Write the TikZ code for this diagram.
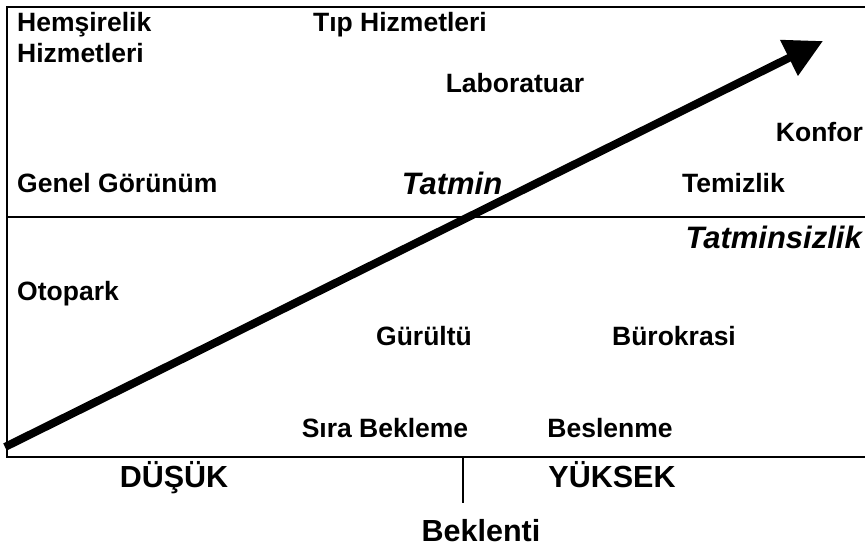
\documentclass[tikz,border=0pt]{standalone}
\usepackage{fontspec}
\setmainfont{Liberation Sans}
\usetikzlibrary{arrows.meta}

\tikzset{
    factor/.style={font=\fontsize{26.5}{30}\selectfont\bfseries,inner sep=0pt,text height=19pt,text depth=0pt},
    zone/.style={font=\fontsize{31}{36}\selectfont\bfseries\itshape,inner sep=0pt,text height=22pt,text depth=0pt},
    axislabel/.style={font=\fontsize{30.5}{36}\selectfont\bfseries,inner sep=0pt,text height=22pt,text depth=0pt},
}

\begin{document}
\begin{tikzpicture}[x=1pt,y=-1pt]
    \useasboundingbox (0,0) rectangle (865,549);
    % frame and the split between the two zones
    \coordinate (tl) at (7,7);
    \coordinate (tr) at (865,7);
    \coordinate (bl) at (7,457);
    \coordinate (br) at (865,457);
    \coordinate (ml) at (7,217);
    \coordinate (mr) at (865,217);
    \draw[line width=1.4pt] (tr) -- (tl) -- (bl) -- (br);
    \draw[line width=1.2pt] (ml) -- (mr);

    % expectation arrow
    \coordinate (start) at (5,447);
    \coordinate (end) at (823,41);
    \draw[line width=8pt,-{Triangle[length=38pt,width=38pt]}] (start) -- (end);

    % factors
    \node[factor,anchor=west,align=left,text height=,text depth=] (hemsire) at (17,38)
        {Hemşirelik\\[1pt]Hizmetleri};
    \node[factor] (tip) at (400,22) {Tıp Hizmetleri};
    \node[factor] (lab) at (515,83) {Laboratuar};
    \node[factor,anchor=east] (konfor) at (863,132) {Konfor};
    \node[factor,anchor=west] (genel) at (17,183) {Genel Görünüm};
    \node[factor,anchor=west] (temiz) at (682,183) {Temizlik};
    \node[factor,anchor=west] (otopark) at (17,291) {Otopark};
    \node[factor] (gurultu) at (424,336) {Gürültü};
    \node[factor] (burokrasi) at (674,336) {Bürokrasi};
    \node[factor] (sira) at (385,428) {Sıra Bekleme};
    \node[factor] (beslenme) at (610,428) {Beslenme};

    % zones
    \node[zone] (tatmin) at (452,183) {Tatmin};
    \node[zone,anchor=east] (tatminsiz) at (862,237) {Tatminsizlik};

    % axis
    \node[axislabel] (dusuk) at (174,476) {DÜŞÜK};
    \node[axislabel] (yuksek) at (612,476) {YÜKSEK};
    \coordinate (tick) at (463,457);
    \coordinate (tickbot) at (463,503);
    \draw[line width=1.2pt] (tick) -- (tickbot);
    \node[axislabel] (beklenti) at (481,530) {Beklenti};
\end{tikzpicture}
\end{document}
